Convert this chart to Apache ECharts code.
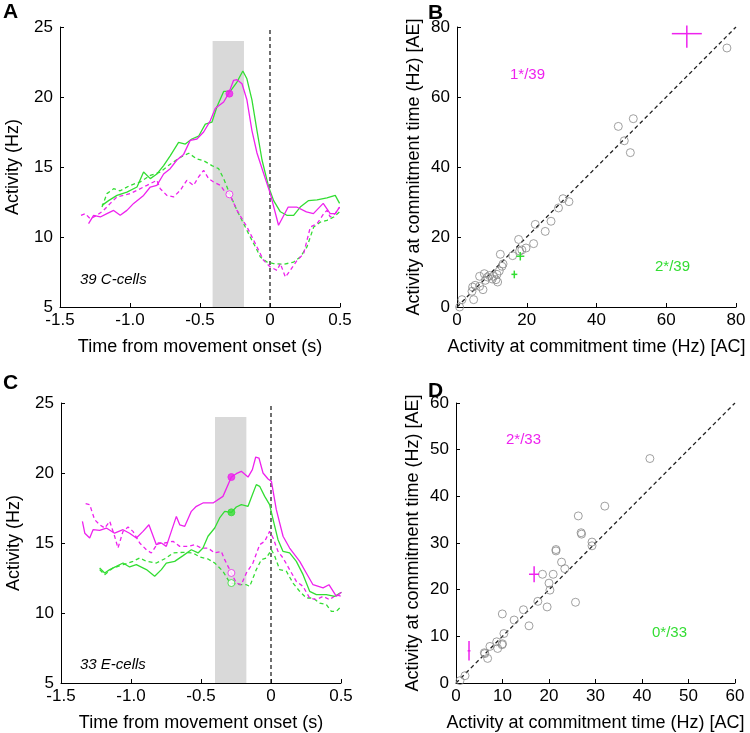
<!DOCTYPE html>
<html><head><meta charset="utf-8">
<script src="https://cdn.jsdelivr.net/npm/echarts@6/dist/echarts.min.js"></script>
<style>html,body{margin:0;padding:0;background:#fff}#c{width:750px;height:733px}</style>
</head><body><div id="c"></div>
<script>
// ---------- DATA ----------
// Panel A (39 C-cells): [time (s), activity (Hz)]
const A_magSolid = [[-1.296,10.96],[-1.26,11.55],[-1.212,11.43],[-1.165,11.67],[-1.117,11.9],[-1.07,11.55],[-1.022,11.9],[-0.974,12.4],[-0.903,12.97],[-0.855,13.57],[-0.808,13.69],[-0.76,14.5],[-0.713,14.88],[-0.665,15.5],[-0.617,15.9],[-0.57,16.9],[-0.522,17.0],[-0.474,17.5],[-0.427,18.3],[-0.39,19.2],[-0.331,19.64],[-0.296,20.24],[-0.26,21.19],[-0.236,21.24],[-0.2,20.95],[-0.165,19.8],[-0.129,17.6],[-0.093,16.0],[-0.046,14.55],[0.002,13.1],[0.061,10.84],[0.13,12.14],[0.19,12.14],[0.26,11.8],[0.31,11.67],[0.38,12.4],[0.43,11.67],[0.466,11.67],[0.497,12.14]];
const A_grnSolid = [[-1.2,12.26],[-1.153,12.6],[-1.093,12.97],[-1.022,13.2],[-0.95,13.57],[-0.903,14.64],[-0.855,14.17],[-0.808,14.5],[-0.76,15.1],[-0.713,15.8],[-0.653,16.76],[-0.605,16.64],[-0.558,17.0],[-0.51,17.2],[-0.462,18.06],[-0.415,18.2],[-0.379,19.3],[-0.331,20.4],[-0.284,20.4],[-0.236,21.07],[-0.194,21.86],[-0.165,21.3],[-0.129,19.8],[-0.093,17.6],[-0.057,15.5],[-0.01,13.6],[0.026,12.6],[0.074,11.8],[0.12,11.55],[0.169,11.55],[0.216,12.14],[0.276,12.6],[0.336,12.65],[0.407,12.8],[0.466,12.97],[0.497,12.4]];
const A_grnDash = [[-1.2,12.14],[-1.165,13.1],[-1.117,13.45],[-1.07,13.3],[-0.998,13.69],[-0.927,13.93],[-0.855,14.4],[-0.784,14.64],[-0.713,15.2],[-0.641,15.69],[-0.58,15.98],[-0.522,15.57],[-0.474,15.45],[-0.415,15.1],[-0.367,14.88],[-0.331,14.17],[-0.288,13.1],[-0.236,11.9],[-0.189,10.96],[-0.141,10.0],[-0.093,9.07],[-0.069,8.57],[-0.022,8.21],[0.026,8.1],[0.098,8.05],[0.169,8.21],[0.216,8.57],[0.264,9.29],[0.312,10.71],[0.36,11.07],[0.407,11.19],[0.455,11.43],[0.497,11.79]];
const A_magDash = [[-1.35,11.55],[-1.32,11.67],[-1.284,11.3],[-1.236,11.55],[-1.189,11.9],[-1.141,12.4],[-1.093,12.86],[-1.046,12.97],[-0.998,13.1],[-0.951,13.33],[-0.879,13.69],[-0.808,14.05],[-0.784,13.45],[-0.736,12.97],[-0.689,12.86],[-0.641,13.33],[-0.594,14.05],[-0.546,13.69],[-0.51,14.29],[-0.474,14.76],[-0.439,14.17],[-0.403,13.93],[-0.355,13.69],[-0.32,13.2],[-0.288,13.05],[-0.236,11.9],[-0.164,10.71],[-0.093,9.29],[-0.046,8.33],[0.002,7.86],[0.05,7.62],[0.074,8.1],[0.11,7.14],[0.145,7.62],[0.193,8.33],[0.24,8.8],[0.288,10.71],[0.336,10.95],[0.384,11.67],[0.407,11.9],[0.43,11.43],[0.466,11.67],[0.497,12.14]];
const A_dotFilledMag = [[-0.29,20.24]];
const A_dotOpenMag = [[-0.29,13.05]];
const A_shade = [[-0.41,-0.186,24]];

// Panel C (33 E-cells)
const C_magSolid = [[-1.347,16.54],[-1.33,15.7],[-1.295,15.36],[-1.271,15.95],[-1.224,15.9],[-1.176,16.07],[-1.117,15.7],[-1.057,15.95],[-1.01,15.7],[-0.962,15.36],[-0.914,15.83],[-0.872,16.3],[-0.819,14.88],[-0.783,15.0],[-0.748,14.76],[-0.712,15.83],[-0.676,16.9],[-0.652,16.3],[-0.616,16.19],[-0.569,17.26],[-0.533,17.62],[-0.486,17.86],[-0.414,17.86],[-0.343,18.33],[-0.283,19.71],[-0.248,19.95],[-0.212,20.12],[-0.164,19.71],[-0.133,20.24],[-0.109,21.14],[-0.086,21.07],[-0.057,20.0],[-0.021,19.57],[0.003,19.4],[0.038,17.38],[0.086,15.48],[0.133,14.64],[0.205,13.69],[0.252,12.86],[0.3,12.02],[0.372,11.79],[0.414,12.02],[0.467,11.19],[0.503,11.48]];
const C_grnSolid = [[-1.224,13.21],[-1.188,12.86],[-1.152,13.1],[-1.105,13.33],[-1.057,13.57],[-1.01,13.29],[-0.962,13.45],[-0.89,13.1],[-0.831,12.62],[-0.783,13.1],[-0.748,13.57],[-0.688,13.69],[-0.628,14.1],[-0.569,14.52],[-0.521,14.29],[-0.486,14.64],[-0.45,15.48],[-0.402,16.07],[-0.367,16.79],[-0.331,17.26],[-0.283,17.19],[-0.248,17.57],[-0.212,17.74],[-0.164,17.62],[-0.133,18.45],[-0.105,19.17],[-0.081,19.05],[-0.045,18.33],[-0.01,17.74],[0.015,16.67],[0.05,15.24],[0.086,14.4],[0.133,14.29],[0.181,13.69],[0.229,12.74],[0.276,11.55],[0.324,11.31],[0.395,11.31],[0.455,11.19],[0.503,11.48]];
const C_grnDash = [[-1.224,13.1],[-1.188,12.74],[-1.129,13.21],[-1.057,13.45],[-0.986,13.69],[-0.938,13.93],[-0.89,13.69],[-0.819,13.57],[-0.748,13.93],[-0.7,14.29],[-0.628,14.33],[-0.557,14.29],[-0.509,14.0],[-0.45,13.86],[-0.402,13.57],[-0.343,12.98],[-0.307,12.38],[-0.283,12.14],[-0.224,12.02],[-0.176,12.02],[-0.152,11.9],[-0.105,13.1],[-0.069,13.81],[-0.033,13.93],[0.003,14.52],[0.027,14.05],[0.062,13.1],[0.11,12.98],[0.157,12.14],[0.205,11.55],[0.252,11.07],[0.3,11.07],[0.348,10.71],[0.395,10.6],[0.431,10.12],[0.467,10.12],[0.503,10.48]];
const C_magDash = [[-1.324,17.81],[-1.295,17.74],[-1.26,16.67],[-1.224,16.31],[-1.188,16.07],[-1.152,16.55],[-1.117,15.48],[-1.093,14.64],[-1.057,15.83],[-1.021,16.14],[-0.986,15.83],[-0.938,15.0],[-0.89,14.52],[-0.855,14.29],[-0.807,15.0],[-0.76,15.0],[-0.7,15.12],[-0.652,14.76],[-0.593,14.76],[-0.545,14.88],[-0.498,14.64],[-0.45,14.64],[-0.402,14.29],[-0.355,14.4],[-0.331,13.81],[-0.307,13.33],[-0.283,12.86],[-0.248,12.14],[-0.212,12.02],[-0.176,12.86],[-0.129,13.57],[-0.081,14.88],[-0.045,15.12],[-0.01,15.83],[0.015,15.36],[0.05,14.4],[0.086,13.93],[0.133,13.1],[0.181,12.26],[0.229,11.9],[0.276,11.07],[0.324,10.95],[0.372,11.19],[0.419,10.95],[0.467,11.31],[0.503,11.19]];
const C_dotFilledMag = [[-0.283,19.71]];
const C_dotFilledGrn = [[-0.283,17.19]];
const C_dotOpenMag = [[-0.283,12.86]];
const C_dotOpenGrn = [[-0.283,12.14]];
const C_shade = [[-0.40,-0.176,24]];

// Panel B: [AC, AE]
const B_points = [[77.4,74.0],[46.25,51.6],[50.55,53.8],[47.97,47.5],[49.7,44.1],[0.75,0],[1.43,2.1],[4.77,2.1],[4.3,4.48],[4.48,5.71],[6.48,5.9],[7.45,4.95],[6.48,8.77],[7.83,9.52],[8.1,7.62],[8.78,8.57],[10.5,8.77],[11.47,9.33],[11.18,7.81],[11.65,7.14],[12.13,10.3],[12.9,11.63],[12.42,15.06],[15.95,14.67],[17.67,19.3],[17.96,16.0],[19.79,16.86],[21.97,18.1],[22.45,23.6],[25.3,21.6],[26.96,24.5],[29.1,28.3],[30.4,30.95],[32.1,30.1],[10.1,8.0],[9.3,9.0],[18.6,16.3],[13.2,12.3],[5.2,6.2]];
// crosses: [x, xlo, xhi, y, ylo, yhi]
const B_crossMag = [[65.9,61.6,70.2,78.1,74.1,80.4]];
const B_crossGrn = [[18.15,17.0,19.3,14.5,13.3,15.7],[16.43,15.6,17.3,9.33,8.2,10.4]];
const B_diag = [[0,0],[80,80]];

// Panel D
const D_points = [[41.7,48.1],[32.0,37.9],[26.3,35.8],[26.9,32.2],[27.0,31.9],[29.25,30.2],[29.25,29.4],[21.5,28.3],[22.7,25.9],[23.4,24.5],[18.6,23.3],[20.9,23.3],[20.0,21.4],[20.2,19.9],[17.6,17.5],[25.7,17.3],[19.6,16.3],[14.5,15.7],[9.96,14.8],[12.5,13.5],[15.7,12.25],[10.3,10.6],[8.75,8.83],[7.3,7.84],[10.0,8.4],[8.96,7.4],[6.1,6.48],[6.8,5.27],[1.94,1.57],[0.86,0.5],[21.5,28.6],[9.9,8.2],[6.2,6.3]];
const D_crossMag = [[16.8,15.7,17.9,23.3,21.6,25.0],[2.8,2.5,3.1,6.9,4.8,9.0]];
const D_diag = [[0,0],[60,60]];

// Axis ranges / tick settings
const timeTicks = {min:-1.5, max:0.5, interval:0.5};
const actTicks = {min:5, max:25, interval:5};
const bTicks = {min:0, max:80, interval:20};
const dTicks = {min:0, max:60, interval:10};
const vline = [[0,5],[0,25]];

// ---------- STYLE ----------
const MAG = '#ee22ee', GRN = '#33dd33';
const FONT = 'Liberation Sans, Arial, sans-serif';
const TICKFS = 17;
const chart = echarts.init(document.getElementById('c'), null, {renderer:'canvas'});

const grids = [
  {left:60, top:27, width:280, height:280},
  {left:457, top:27, width:279, height:280},
  {left:61, top:403, width:280, height:281},
  {left:456, top:403, width:279, height:281}
];
function axisCommon(){
  return {
    axisLine:{show:true, onZero:false, lineStyle:{color:'#000', width:1}},
    axisTick:{show:true, inside:true, length:4, lineStyle:{color:'#000'}},
    splitLine:{show:false},
    nameTextStyle:{color:'#000', fontSize:18, fontFamily:FONT},
    nameLocation:'middle'
  };
}
const tFmt = v => v === 0 ? '0' : v.toFixed(1);
function lbl(margin, fmt){
  const o = {color:'#000', fontSize:TICKFS, fontFamily:FONT, margin};
  if (fmt) o.formatter = fmt;
  return o;
}
const xAxes = [
  Object.assign(axisCommon(), {gridIndex:0, type:'value', ...timeTicks, name:'Time from movement onset (s)', nameGap:31, axisLabel:lbl(5, tFmt)}),
  Object.assign(axisCommon(), {gridIndex:1, type:'value', ...bTicks, name:'Activity at commitment time (Hz) [AC]', nameGap:31, axisLabel:lbl(5)}),
  Object.assign(axisCommon(), {gridIndex:2, type:'value', ...timeTicks, name:'Time from movement onset (s)', nameGap:31, axisLabel:lbl(5, tFmt)}),
  Object.assign(axisCommon(), {gridIndex:3, type:'value', ...dTicks, name:'Activity at commitment time (Hz) [AC]', nameGap:31, axisLabel:lbl(5)})
];
const yAxes = [
  Object.assign(axisCommon(), {gridIndex:0, type:'value', ...actTicks, name:'Activity (Hz)', nameGap:38, axisLabel:lbl(7)}),
  Object.assign(axisCommon(), {gridIndex:1, type:'value', ...bTicks, name:'Activity at commitment time (Hz) [AE]', nameGap:34, axisLabel:lbl(7)}),
  Object.assign(axisCommon(), {gridIndex:2, type:'value', ...actTicks, name:'Activity (Hz)', nameGap:38, axisLabel:lbl(7)}),
  Object.assign(axisCommon(), {gridIndex:3, type:'value', ...dTicks, name:'Activity at commitment time (Hz) [AE]', nameGap:34, axisLabel:lbl(7)})
];

function line(g, data, color, dashed, z){
  return {type:'line', xAxisIndex:g, yAxisIndex:g, data, symbol:'none', showSymbol:false, silent:true,
    lineStyle:{color, width:1.3, type: dashed ? [4,3] : 'solid'}, z: z || 3, animation:false};
}
function dots(g, data, fill, edge, size, z){
  return {type:'scatter', xAxisIndex:g, yAxisIndex:g, data, symbol:'circle', symbolSize:size,
    itemStyle:{color:fill, borderColor:edge, borderWidth:1}, z: z || 5, animation:false, silent:true};
}
function shade(g, data){
  return {type:'custom', xAxisIndex:g, yAxisIndex:g, data, z:1, silent:true, animation:false,
    encode:{x:[0,1], y:2},
    renderItem(params, api){
      const p0 = api.coord([api.value(0), 5]);
      const p1 = api.coord([api.value(1), api.value(2)]);
      return {type:'rect', shape:{x:p0[0], y:p1[1], width:p1[0]-p0[0], height:p0[1]-p1[1]}, style:{fill:'#d9d9d9'}};
    }};
}
function crosses(g, data, color, w){
  return {type:'custom', xAxisIndex:g, yAxisIndex:g, data, z:6, silent:true, animation:false, clip:false,
    encode:{x:[0,1,2], y:[3,4,5]},
    renderItem(params, api){
      const x=api.value(0), xlo=api.value(1), xhi=api.value(2), y=api.value(3), ylo=api.value(4), yhi=api.value(5);
      const a=api.coord([xlo,y]), b=api.coord([xhi,y]), c=api.coord([x,ylo]), d=api.coord([x,yhi]);
      return {type:'group', children:[
        {type:'line', shape:{x1:a[0],y1:a[1],x2:b[0],y2:b[1]}, style:{stroke:color, lineWidth:w}},
        {type:'line', shape:{x1:c[0],y1:c[1],x2:d[0],y2:d[1]}, style:{stroke:color, lineWidth:w}}
      ]};
    }};
}

const series = [
  shade(0, A_shade),
  line(0, vline, '#222', true, 2),
  line(0, A_grnDash, GRN, true),
  line(0, A_magDash, MAG, true),
  line(0, A_grnSolid, GRN, false),
  line(0, A_magSolid, MAG, false),
  dots(0, A_dotFilledMag, MAG, MAG, 7),
  dots(0, A_dotOpenMag, '#fff', MAG, 7),

  line(1, B_diag, '#222', true, 2),
  dots(1, B_points, 'rgba(0,0,0,0)', '#888', 8),
  crosses(1, B_crossMag, MAG, 1.5),
  crosses(1, B_crossGrn, GRN, 1.5),

  shade(2, C_shade),
  line(2, vline, '#222', true, 2),
  line(2, C_grnDash, GRN, true),
  line(2, C_magDash, MAG, true),
  line(2, C_grnSolid, GRN, false),
  line(2, C_magSolid, MAG, false),
  dots(2, C_dotFilledMag, MAG, MAG, 7),
  dots(2, C_dotFilledGrn, GRN, GRN, 7),
  dots(2, C_dotOpenMag, '#fff', MAG, 7),
  dots(2, C_dotOpenGrn, '#fff', GRN, 7),

  line(3, D_diag, '#222', true, 2),
  dots(3, D_points, 'rgba(0,0,0,0)', '#888', 8),
  crosses(3, D_crossMag, MAG, 1.5)
];

function txt(x, y, s, opts){
  return {type:'text', left:x, top:y, silent:true, z:10,
    style:Object.assign({text:s, fill:'#000', font:'16px ' + FONT}, opts || {})};
}
const graphics = [
  txt(3, 2, 'A', {font:'bold 21px ' + FONT}),
  txt(428, 3, 'B', {font:'bold 21px ' + FONT}),
  txt(3, 373, 'C', {font:'bold 21px ' + FONT}),
  txt(428, 381, 'D', {font:'bold 21px ' + FONT}),
  txt(80, 272, '39 C-cells', {font:'italic 15px ' + FONT}),
  txt(80, 657, '33 E-cells', {font:'italic 15px ' + FONT}),
  txt(510, 67, '1*/39', {font:'15px ' + FONT, fill:MAG}),
  txt(655, 259, '2*/39', {font:'15px ' + FONT, fill:GRN}),
  txt(506, 432, '2*/33', {font:'15px ' + FONT, fill:MAG}),
  txt(652, 625, '0*/33', {font:'15px ' + FONT, fill:GRN})
];

chart.setOption({
  animation:false,
  backgroundColor:'#fff',
  grid:grids,
  xAxis:xAxes,
  yAxis:yAxes,
  series,
  graphic:graphics
});
</script></body></html>
